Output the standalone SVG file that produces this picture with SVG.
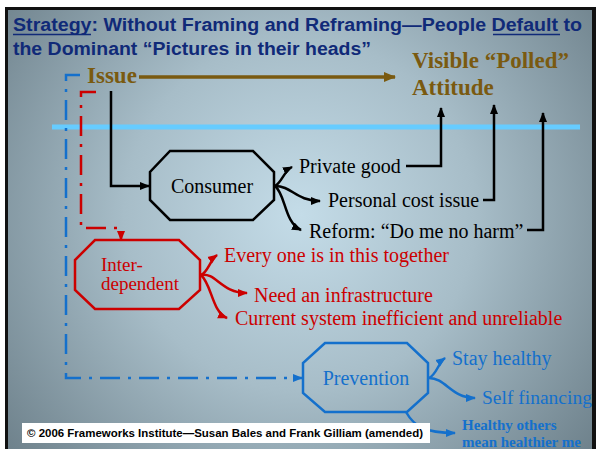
<svg xmlns="http://www.w3.org/2000/svg" width="596" height="449" viewBox="0 0 596 449">
<defs>
<radialGradient id="bg" gradientUnits="userSpaceOnUse" cx="300" cy="215" r="390">
<stop offset="0" stop-color="#c4dce8"/>
<stop offset="0.45" stop-color="#a7bdc8"/>
<stop offset="1" stop-color="#6a7d87"/>
</radialGradient>
<marker id="ak" markerUnits="userSpaceOnUse" markerWidth="10" markerHeight="10" viewBox="0 0 10 10" refX="9" refY="5" orient="auto"><path d="M0,1 L10,5 L0,9 Z" fill="#000"/></marker>
<marker id="ar" markerUnits="userSpaceOnUse" markerWidth="10" markerHeight="10" viewBox="0 0 10 10" refX="9" refY="5" orient="auto"><path d="M0,1 L10,5 L0,9 Z" fill="#cc0000"/></marker>
<marker id="ab" markerUnits="userSpaceOnUse" markerWidth="10" markerHeight="10" viewBox="0 0 10 10" refX="9" refY="5" orient="auto"><path d="M0,1 L10,5 L0,9 Z" fill="#1470cc"/></marker>
<marker id="ao" markerUnits="userSpaceOnUse" markerWidth="12" markerHeight="12" viewBox="0 0 12 12" refX="11" refY="6" orient="auto"><path d="M0,1 L12,6 L0,11 Z" fill="#7a5a10"/></marker>
</defs>
<style>
.ser{font-family:"Liberation Serif","Times New Roman",serif}
.san{font-family:"Liberation Sans",Arial,sans-serif}
.t20{font-size:20px}
.blk{fill:#000}
.red{fill:#cc0000}
.blu{fill:#1470cc}
.oct{fill:none;stroke-width:2.5}
.ck{fill:none;stroke:#000;stroke-width:2.5}
.cr{fill:none;stroke:#cc0000;stroke-width:2.5}
.cb{fill:none;stroke:#1470cc;stroke-width:2.5}
.dd{stroke-dasharray:20 8 3 8}
.olv{fill:#7a5a10;font-weight:bold;font-size:23px}
</style>
<rect x="0" y="0" width="596" height="449" fill="#fff"/>
<rect x="5" y="7" width="591" height="442" fill="#111"/>
<rect x="8" y="10" width="584" height="439" fill="url(#bg)"/>

<g id="title">
<text class="san" x="13" y="31" font-size="18" font-weight="bold" fill="#102a78" textLength="569" lengthAdjust="spacingAndGlyphs">Strategy: Without Framing and Reframing—People Default to</text>
<text class="san" x="13" y="55" font-size="18" font-weight="bold" fill="#102a78" textLength="358" lengthAdjust="spacingAndGlyphs">the Dominant “Pictures in their heads”</text>
<line x1="13" y1="34.5" x2="91" y2="34.5" stroke="#102a78" stroke-width="1.6"/>
<line x1="493" y1="34.5" x2="560" y2="34.5" stroke="#102a78" stroke-width="1.6"/>
</g>

<line id="divider" x1="52" y1="127" x2="580" y2="127" stroke="#66ccff" stroke-width="5"/>

<g id="connectors">
<line x1="139" y1="77" x2="395" y2="77" stroke="#7a5a10" stroke-width="3.5" marker-end="url(#ao)"/>
<path class="ck" d="M111,91 V186 H149" marker-end="url(#ak)"/>
<path class="ck" d="M406,166 H441 V108" marker-end="url(#ak)"/>
<path class="ck" d="M483,200 H494 V105" marker-end="url(#ak)"/>
<path class="ck" d="M527,230 H543 V113" marker-end="url(#ak)"/>
<path class="ck" d="M275,186 C282,182 284,171 292,167" marker-end="url(#ak)"/>
<path class="ck" d="M275,186 C292,186 296,201 320,201" marker-end="url(#ak)"/>
<path class="ck" d="M275,186 C286,195 284,222 301,230" marker-end="url(#ak)"/>
<path class="cr dd" d="M96,92 H81 V228 H121 V240" marker-end="url(#ar)"/>
<path class="cr" d="M201,275 C208,272 210,260 217,255" marker-end="url(#ar)"/>
<path class="cr" d="M201,275 C216,272 221,293 247,293" marker-end="url(#ar)"/>
<path class="cr" d="M201,275 C212,285 212,312 227,318" marker-end="url(#ar)"/>
<path class="cb dd" d="M80,75 H66 V378 H302" marker-end="url(#ab)"/>
<path class="cb" d="M429,378 C437,374 438,363 445,358" marker-end="url(#ab)"/>
<path class="cb" d="M429,378 C446,378 451,398 475,398" marker-end="url(#ab)"/>
<path class="cb" d="M406,412 C414,426 424,433 455,433" marker-end="url(#ab)"/>
</g>

<g id="issue">
<text class="ser olv" x="87" y="83">Issue</text>
</g>
<g id="attitude">
<text class="ser olv" x="412" y="68">Visible “Polled”</text>
<text class="ser olv" x="412" y="95">Attitude</text>
</g>

<g id="consumer">
<polygon class="oct" stroke="#000" points="170,151 253,151 274,172 274,200 253,220 170,220 150,200 150,172"/>
<text class="ser t20 blk" x="212" y="193" text-anchor="middle">Consumer</text>
</g>
<g id="consumer-outcomes">
<text class="ser t20 blk" x="299" y="173">Private good</text>
<text class="ser t20 blk" x="328" y="207">Personal cost issue</text>
<text class="ser t20 blk" x="309" y="238">Reform: “Do me no harm”</text>
</g>

<g id="interdependent">
<polygon class="oct" stroke="#cc0000" points="95,240 179,240 200,260 200,290 179,309 95,309 75,290 75,260"/>
<text class="ser red" x="101" y="271" font-size="19">Inter-</text>
<text class="ser red" x="101" y="290" font-size="19">dependent</text>
</g>
<g id="interdependent-outcomes">
<text class="ser t20 red" x="224" y="262">Every one is in this together</text>
<text class="ser t20 red" x="254" y="302">Need an infrastructure</text>
<text class="ser t20 red" x="235" y="325">Current system inefficient and unreliable</text>
</g>

<g id="prevention">
<polygon class="oct" stroke="#1470cc" points="325,343 407,343 428,363 428,393 407,412 325,412 303,393 303,363"/>
<text class="ser t20 blu" x="366" y="385" text-anchor="middle">Prevention</text>
</g>
<g id="prevention-outcomes">
<text class="ser t20 blu" x="452" y="365">Stay healthy</text>
<text class="ser blu" x="482" y="404" font-size="19.5">Self financing</text>
<text class="ser blu" x="462" y="430" font-size="15" font-weight="bold">Healthy others</text>
<text class="ser blu" x="462" y="447" font-size="15" font-weight="bold">mean healthier me</text>
</g>

<g id="credit">
<rect x="22" y="423" width="408" height="20" fill="#fff"/>
<text class="san" x="27" y="437" font-size="11" font-weight="bold" fill="#000" textLength="396" lengthAdjust="spacingAndGlyphs">© 2006 Frameworks Institute—Susan Bales and Frank Gilliam (amended)</text>
</g>
</svg>
